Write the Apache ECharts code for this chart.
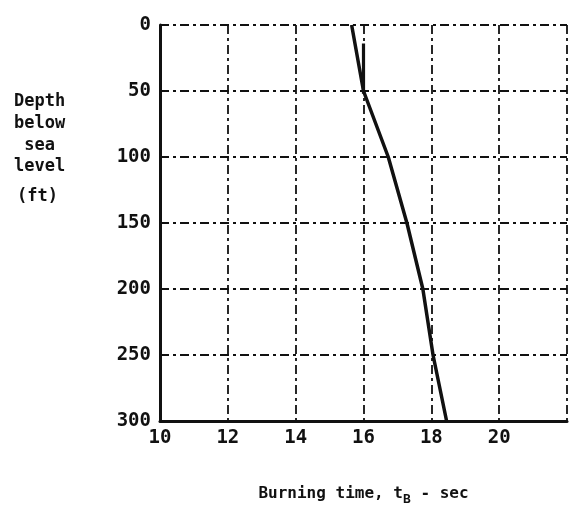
<!DOCTYPE html>
<html>
<head>
<meta charset="utf-8">
<script src="https://cdn.jsdelivr.net/npm/echarts@6/dist/echarts.min.js"></script>
<style>
html,body{margin:0;padding:0;background:#fff;}
#c{width:575px;height:513px;}
</style>
</head>
<body>
<div id="c"></div>
<script>
// Data
var depthFt = [0, 50, 100, 150, 200, 250, 300];
var burnTime = [15.65, 16.0, 16.73, 17.28, 17.75, 18.05, 18.45];
var stubDepth = [14, 52];
var stubTime = [16.0, 16.0];
var xTickLabels = ['10', '12', '14', '16', '18', '20', ''];
var yTickLabels = ['0', '50', '100', '150', '200', '250', '300'];

var FONT = '"DejaVu Sans Mono", "Liberation Mono", monospace';
var ink = '#111';

var chart = echarts.init(document.getElementById('c'));
var curve = burnTime.map(function (t, i) { return [t, depthFt[i]]; });
var stub = stubTime.map(function (t, i) { return [t, stubDepth[i]]; });

chart.setOption({
  animation: false,
  backgroundColor: '#fff',
  grid: { left: 160, right: 8, top: 25, bottom: 92 },
  xAxis: {
    type: 'value', min: 10, max: 22, interval: 2,
    axisLine: { show: true, onZero: false, lineStyle: { color: ink, width: 3 } },
    axisTick: { show: false },
    axisLabel: {
      color: ink, fontFamily: FONT, fontWeight: 'bold', fontSize: 19, margin: 8,
      formatter: function (v) { return xTickLabels[Math.round((v - 10) / 2)]; }
    },
    splitLine: { show: true, lineStyle: { color: ink, width: 1.8, type: [9, 4, 3, 4] } },
    name: '{a|Burning time, t}{s|B}{a| - sec}',
    nameLocation: 'middle', nameGap: 60,
    nameTextStyle: {
      rich: {
        a: { fontFamily: FONT, fontWeight: 'bold', fontSize: 16, color: ink },
        s: { fontFamily: FONT, fontWeight: 'bold', fontSize: 13, color: ink, verticalAlign: 'bottom', padding: [12, 0, 0, 0] }
      }
    }
  },
  yAxis: {
    type: 'value', min: 0, max: 300, interval: 50, inverse: true,
    axisLine: { show: true, onZero: false, lineStyle: { color: ink, width: 3 } },
    axisTick: { show: true, inside: true, length: 5, lineStyle: { color: ink, width: 1.5 } },
    axisLabel: {
      color: ink, fontFamily: FONT, fontWeight: 'bold', fontSize: 19, margin: 9,
      formatter: function (v) { return yTickLabels[Math.round(v / 50)]; }
    },
    splitLine: { show: true, lineStyle: { color: ink, width: 1.8, type: [9, 4, 3, 4] } }
  },
  graphic: [
    {
      type: 'text', left: 14, top: 91,
      style: { text: 'Depth\nbelow\n sea\nlevel', font: 'bold 17px ' + FONT, fill: ink, lineHeight: 21.7, align: 'left' }
    },
    {
      type: 'text', left: 17, top: 188,
      style: { text: '(ft)', font: 'bold 17px ' + FONT, fill: ink }
    }
  ],
  series: [
    {
      type: 'line', data: curve, smooth: false, symbol: 'none',
      lineStyle: { color: ink, width: 3.5, join: 'round' }
    },
    {
      type: 'line', data: stub, symbol: 'none',
      lineStyle: { color: ink, width: 3.2 }
    }
  ]
});
</script>
</body>
</html>
